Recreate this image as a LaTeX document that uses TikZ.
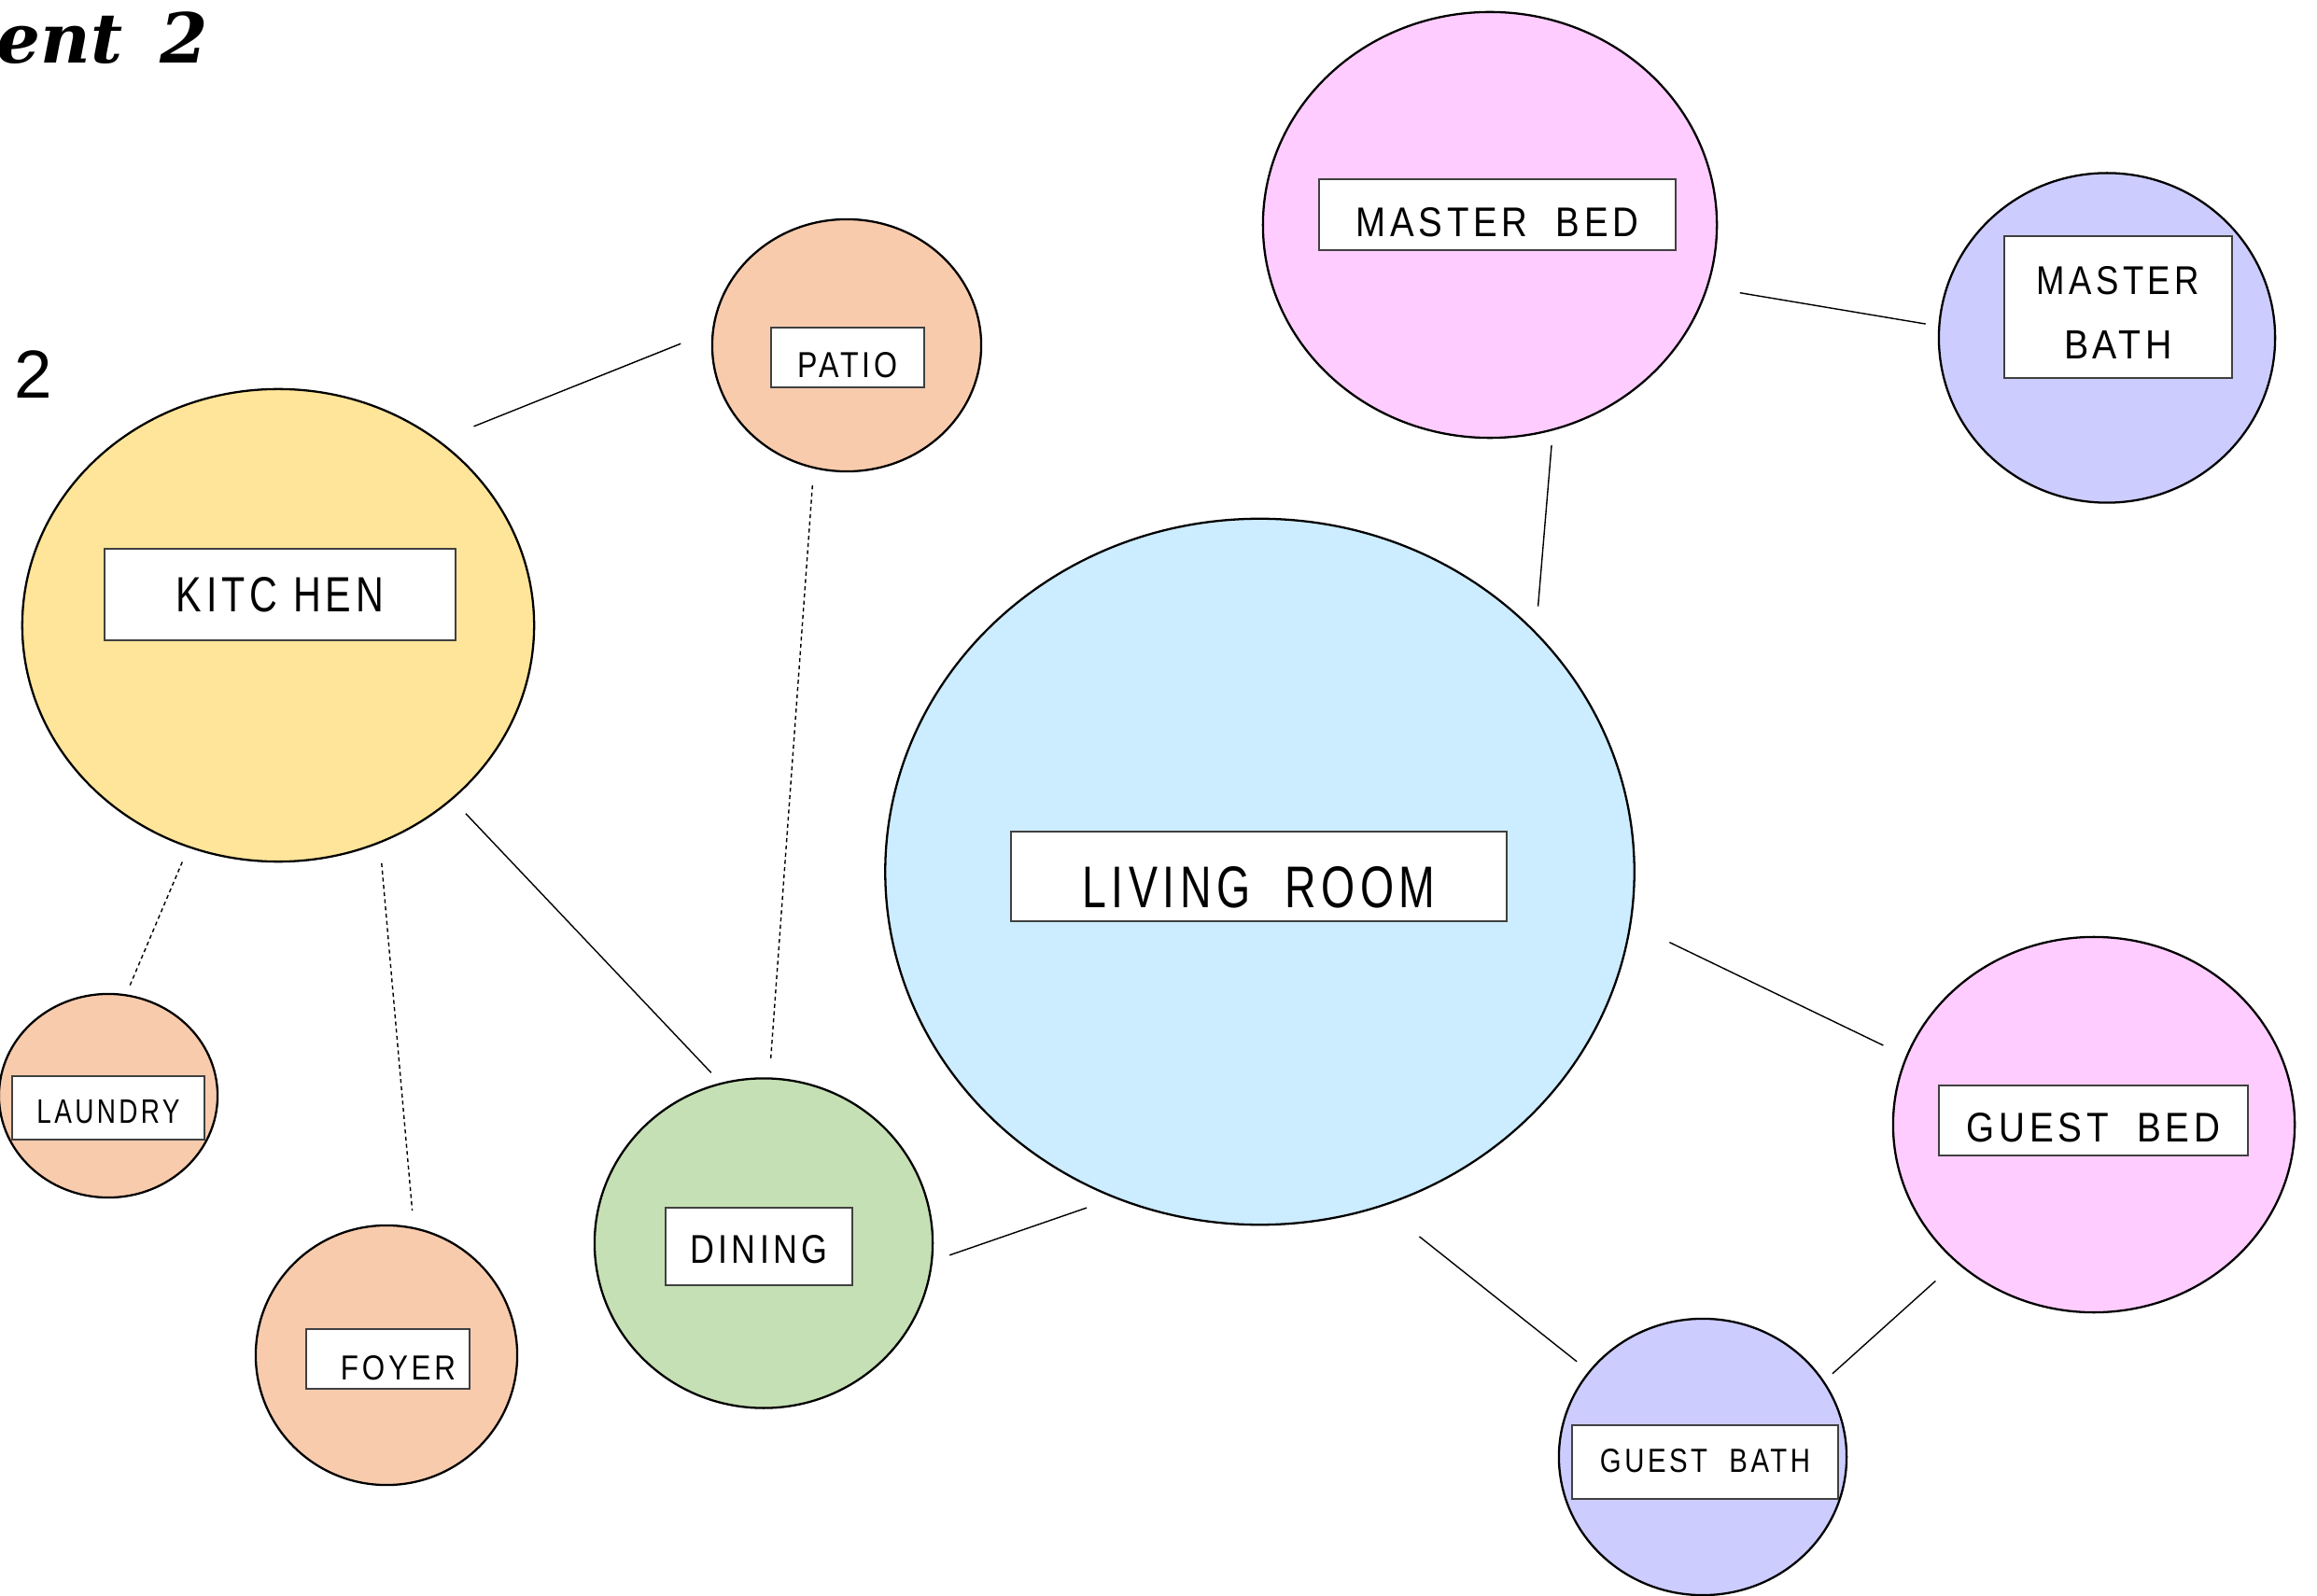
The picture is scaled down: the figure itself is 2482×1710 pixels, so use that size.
\documentclass[tikz,border=0pt]{standalone}
\usepackage{fontspec}
\usepackage{graphicx}
\setmainfont{Liberation Sans}
\newfontfamily\labfont[LetterSpace=12]{Liberation Sans}
\newfontfamily\titlefont{DejaVu Serif}
\usetikzlibrary{shapes.geometric}
\definecolor{cKit}{RGB}{255,229,153}
\definecolor{cPeach}{RGB}{248,203,173}
\definecolor{cPink}{RGB}{255,204,255}
\definecolor{cLav}{RGB}{204,204,255}
\definecolor{cBlue}{RGB}{204,236,255}
\definecolor{cGreen}{RGB}{197,224,180}
\newcommand\lbltxt[3]{\resizebox{#1cm}{#2cm}{\labfont #3}}
\tikzset{
  room/.style={ellipse, draw=black, line width=0.65pt, inner sep=0pt},
  lab/.style={draw=black!75, fill=white, line width=0.45pt, inner sep=0pt},
  link/.style={draw=black, line width=0.4pt},
  dlink/.style={draw=black, line width=0.4pt, dash pattern=on 1.2pt off 1pt},
}
\begin{document}
\begin{tikzpicture}[x=0.01cm, y=-0.01cm]
\fill[white] (0,0) rectangle (2482,1710);
\useasboundingbox (0,0) rectangle (2482,1710);

% title fragments
\node[anchor=base east, inner sep=0pt, font=\titlefont\bfseries\itshape\fontsize{21}{24}\selectfont] (title) at (224,68) {ent\hspace{0.15cm} 2};
\node[anchor=base, inner sep=0pt, font=\fontsize{20.7}{24}\selectfont] (num) at (36,427) {2};

% rooms
\node[room, fill=cKit,   minimum width=5.48cm, minimum height=5.06cm] (kitchen)    at (298,670) {};
\node[room, fill=cPeach, minimum width=2.88cm, minimum height=2.70cm] (patio)      at (907,370) {};
\node[room, fill=cPink,  minimum width=4.86cm, minimum height=4.56cm] (masterbed)  at (1596,241) {};
\node[room, fill=cLav,   minimum width=3.60cm, minimum height=3.53cm] (masterbath) at (2257,362) {};
\node[room, fill=cBlue,  minimum width=8.02cm, minimum height=7.56cm] (living)     at (1349.5,934) {};
\node[room, fill=cPink,  minimum width=4.30cm, minimum height=4.02cm] (guestbed)   at (2243,1205) {};
\node[room, fill=cLav,   minimum width=3.08cm, minimum height=2.96cm] (guestbath)  at (1824,1561) {};
\node[room, fill=cGreen, minimum width=3.62cm, minimum height=3.53cm] (dining)     at (818,1332) {};
\node[room, fill=cPeach, minimum width=2.34cm, minimum height=2.18cm] (laundry)    at (116,1174) {};
\node[room, fill=cPeach, minimum width=2.80cm, minimum height=2.78cm] (foyer)      at (414,1452) {};

% labels
\node[lab, minimum width=3.76cm, text height=0.675cm, text depth=0.305cm] (kitchenlab) at (300,637) {\lbltxt{2.22}{0.37}{KITC HEN}};
\node[lab, minimum width=1.64cm, text height=0.53cm, text depth=0.11cm] (patiolab) at (908,383) {\lbltxt{1.07}{0.27}{PATIO}};
\node[lab, minimum width=1.75cm, text height=0.54cm, text depth=0.10cm] (foyerlab) at (415.5,1456) {\hspace{0.22cm}\lbltxt{1.23}{0.26}{FOYER}};
\node[lab, minimum width=3.82cm, text height=0.61cm, text depth=0.15cm] (masterbedlab) at (1604,230) {\lbltxt{3.02}{0.31}{MASTER~~BED}};
\node[lab, minimum width=2.44cm, minimum height=1.52cm, align=center, font=\fontsize{20}{19.9}\selectfont] (masterbathlab) at (2269,329) {\rule{0pt}{0.42cm}\lbltxt{1.74}{0.30}{MASTER}\\\lbltxt{1.16}{0.30}{BATH}};
\node[lab, minimum width=5.31cm, text height=0.81cm, text depth=0.15cm] (livinglab) at (1348.5,939) {\lbltxt{3.78}{0.44}{LIVING~~ROOM}};
\node[lab, minimum width=3.31cm, text height=0.60cm, text depth=0.15cm] (guestbedlab) at (2242.5,1200.5) {\lbltxt{2.71}{0.31}{GUEST~~BED}};
\node[lab, minimum width=2.85cm, text height=0.50cm, text depth=0.29cm] (guestbathlab) at (1826.5,1566.5) {\lbltxt{2.25}{0.25}{GUEST~~BATH}};
\node[lab, minimum width=2.00cm, text height=0.59cm, text depth=0.24cm] (dininglab) at (813,1335.5) {\lbltxt{1.47}{0.30}{DINING}};
\node[lab, minimum width=2.06cm, text height=0.50cm, text depth=0.18cm] (laundrylab) at (116,1187) {\lbltxt{1.53}{0.25}{LAUNDRY}};

% connectors
\draw[link, shorten <=0.40cm, shorten >=0.36cm] (kitchen.49.5) -- (patio.174.8);
\draw[dlink, shorten <=0.18cm, shorten >=0.186cm] (patio.255.2) -- (dining.88.8);
\draw[link, shorten <=0.205cm, shorten >=0.147cm] (kitchen.315.65) -- (dining.105.75);
\draw[dlink, shorten <=0.166cm, shorten >=0.10cm] (kitchen.248.6) -- (laundry.80.05);
\draw[dlink, shorten <=0.215cm, shorten >=0.177cm] (kitchen.295.5) -- (foyer.78.6);
\draw[link, shorten <=0.19cm, shorten >=0.314cm] (dining.354.2) -- (living.246.1);
\draw[link, shorten <=0.273cm, shorten >=0.158cm] (living.41.96) -- (masterbed.287.8);
\draw[link, shorten <=0.346cm, shorten >=0.137cm] (masterbed.344.4) -- (masterbath.176.0);
\draw[link, shorten <=0.454cm, shorten >=0.267cm] (living.352.3) -- (guestbed.160.5);
\draw[link, shorten <=0.515cm, shorten >=0.163cm] (living.290.8) -- (guestbath.143.85);
\draw[link, shorten <=0.295cm, shorten >=0.118cm] (guestbed.225.4) -- (guestbath.32.7);
\end{tikzpicture}
\end{document}
